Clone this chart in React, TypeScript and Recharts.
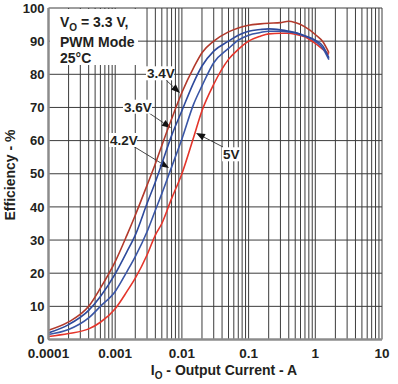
import React from 'react';
import { LineChart, Line, XAxis, YAxis, CartesianGrid, Customized } from 'recharts';

// output current (A) and efficiency (%) for each input voltage
const currents = [0.0001, 0.0002, 0.0004, 0.0006, 0.001, 0.0015, 0.002, 0.003, 0.004, 0.005, 0.007, 0.01, 0.015, 0.02, 0.03, 0.05, 0.07, 0.1, 0.15, 0.2, 0.3, 0.4, 0.5, 0.7, 1, 1.3, 1.6];
const eff34 = [2.8, 5.3, 10, 15.5, 23.5, 31.5, 37.5, 46.5, 53, 58.5, 66.5, 74.5, 82, 86.5, 90, 92.8, 94, 94.8, 95.2, 95.4, 95.6, 96, 95.6, 94.3, 92, 89.8, 86.5];
const eff36 = [2.0, 4.5, 8.8, 13, 19.8, 26.5, 31.5, 41, 47.5, 53, 61.5, 69, 77.5, 82.5, 87, 90, 91.8, 93, 93.5, 93.7, 93.4, 93, 92.6, 91.6, 90.3, 88.5, 85];
const eff42 = [1.5, 3.0, 6.5, 10, 14.5, 20.5, 25, 32.5, 39, 44, 52, 60.5, 71, 76.5, 83.5, 87.8, 90.3, 91.8, 92.6, 93, 93, 92.8, 92.5, 91.5, 90, 87.8, 84.4];
const eff50 = [0.9, 1.8, 3.2, 5.2, 9.3, 14.5, 18.5, 25.5, 31.5, 35, 42.5, 50, 61, 69, 77, 84.5, 87.5, 90, 91.5, 92.2, 92.4, 92.4, 92.1, 91.3, 89.3, 87.5, 86];

const decades = [0.0001, 0.001, 0.01, 0.1, 1, 10];
const decadeLabels = ['0.0001', '0.001', '0.01', '0.1', '1', '10'];
const yTicks = [0, 10, 20, 30, 40, 50, 60, 70, 80, 90, 100];

const data = currents.map((x, i) => ({ x, v34: eff34[i], v36: eff36[i], v42: eff42[i], v50: eff50[i] }));

// decade + minor grid ticks (2..9 per decade)
const xTicks: number[] = [];
decades.slice(0, -1).forEach((d) => {
  for (let m = 1; m < 10; m++) xTicks.push(+(d * m).toPrecision(3));
});
xTicks.push(10);

const FONT = '"Liberation Sans", Arial, sans-serif';
const tickStyle = { fill: '#231f20', fontSize: 13, fontWeight: 'bold', fontFamily: FONT };

const fmtX = (v: number) => {
  const i = decades.findIndex((d) => Math.abs(d - v) / d < 1e-6);
  return i >= 0 ? decadeLabels[i] : '';
};

const Arrow = ({ x1, y1, x2, y2 }: { x1: number; y1: number; x2: number; y2: number }) => {
  const a = Math.atan2(y2 - y1, x2 - x1);
  const len = 9;
  const w = 3.5;
  const bx = x2 - len * Math.cos(a);
  const by = y2 - len * Math.sin(a);
  const px = -Math.sin(a) * w;
  const py = Math.cos(a) * w;
  return (
    <g>
      <line x1={x1} y1={y1} x2={bx} y2={by} stroke="#333" strokeWidth={0.9} />
      <polygon points={`${x2},${y2} ${bx + px},${by + py} ${bx - px},${by - py}`} fill="#111" />
    </g>
  );
};

const Tag = ({ x, y, w, text }: { x: number; y: number; w: number; text: string }) => (
  <g>
    <rect x={x - 1} y={y - 12} width={w} height={14} fill="#fff" />
    <text x={x} y={y} fontSize={13.5} fontWeight="bold" fontFamily={FONT} fill="#231f20">
      {text}
    </text>
  </g>
);

const Annotations = () => (
  <g>
    <rect x={50} y={9} width={88} height={56} fill="#fff" />
    <text x={60} y={27.3} fontSize={14} fontWeight="bold" fontFamily={FONT} fill="#231f20">
      V<tspan fontSize={10} dy={4}>O</tspan>
      <tspan dy={-4}> = 3.3 V,</tspan>
    </text>
    <text x={60} y={46.5} fontSize={14} fontWeight="bold" fontFamily={FONT} fill="#231f20">
      PWM Mode
    </text>
    <text x={60} y={62.5} fontSize={14} fontWeight="bold" fontFamily={FONT} fill="#231f20">
      25°C
    </text>

    <Arrow x1={166} y1={80} x2={180} y2={93} />
    <Arrow x1={149} y1={113} x2={171} y2={128} />
    <Arrow x1={133} y1={146} x2={169} y2={168} />
    <Arrow x1={223} y1={147} x2={196} y2={133} />

    <Tag x={147} y={78.3} w={28} text="3.4V" />
    <Tag x={124} y={111.7} w={29} text="3.6V" />
    <Tag x={110} y={145} w={28} text="4.2V" />
    <Tag x={223} y={159.3} w={17} text="5V" />

    <text x={10} y={175} transform="rotate(-90 10 175)" textAnchor="middle" dominantBaseline="central"
      fontSize={14} fontWeight="bold" fontFamily={FONT} fill="#231f20">
      Efficiency - %
    </text>
    <text x={224} y={374.5} textAnchor="middle" fontSize={14} fontWeight="bold" fontFamily={FONT} fill="#231f20">
      I<tspan fontSize={10} dy={4}>O</tspan>
      <tspan dy={-4}> - Output Current - A</tspan>
    </text>
  </g>
);

export default function App() {
  return (
    <div style={{ position: 'absolute', left: 0, top: 0, background: '#fff' }}>
      <LineChart width={398} height={384} data={data} margin={{ top: 8, right: 16, bottom: 0, left: 0 }}>
        <CartesianGrid stroke="#3c3c3c" strokeWidth={1} ticks={yTicks} />
        <XAxis
          dataKey="x"
          type="number"
          scale="log"
          domain={[0.0001, 10]}
          ticks={xTicks}
          interval={0}
          tickFormatter={fmtX}
          tickLine={false}
          tickSize={0}
          tickMargin={9}
          height={44.5}
          axisLine={{ stroke: '#8c8c8c', strokeWidth: 2.5 }}
          tick={{ ...tickStyle, fontSize: 13.5 }}
          allowDataOverflow
        />
        <YAxis
          type="number"
          domain={[0, 100]}
          ticks={yTicks}
          interval={0}
          width={48.5}
          tickLine={false}
          tickSize={0}
          tickMargin={4}
          axisLine={{ stroke: '#8c8c8c', strokeWidth: 2.5 }}
          tick={tickStyle}
        />
        <Line type="monotone" dataKey="v50" stroke="#e4352b" strokeWidth={1.6} dot={false} isAnimationActive={false} />
        <Line type="monotone" dataKey="v42" stroke="#3a56a6" strokeWidth={1.6} dot={false} isAnimationActive={false} />
        <Line type="monotone" dataKey="v36" stroke="#2e4a9c" strokeWidth={1.6} dot={false} isAnimationActive={false} />
        <Line type="monotone" dataKey="v34" stroke="#b23a2c" strokeWidth={1.6} dot={false} isAnimationActive={false} />
        <Customized component={Annotations} />
      </LineChart>
    </div>
  );
}
